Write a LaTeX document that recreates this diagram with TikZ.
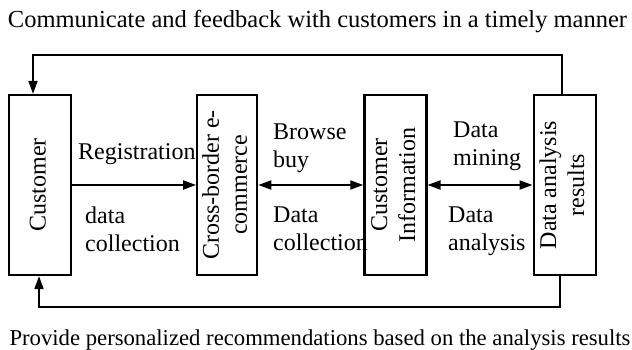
\documentclass[tikz,border=0pt]{standalone}
\usepackage{fontspec}
\setmainfont{Liberation Serif}
\usepackage{graphicx}
\usepackage{tikz}
\usetikzlibrary{positioning, arrows.meta}

% rotated text inside an upright box
\newcommand{\uptext}[1]{\rotatebox{90}{\begin{tabular}{@{}c@{}}#1\end{tabular}}}

\begin{document}
\begin{tikzpicture}[x=1pt, y=-1pt, >={Triangle[length=13pt,width=9pt]},
  font=\fontsize{24}{28}\selectfont,
  base/.style={draw, line width=2.2pt, minimum width=60pt, minimum height=180pt,
               inner sep=0pt, align=center},
  lbl/.style={anchor=north west, inner sep=0pt, align=left},
  link/.style={line width=1.8pt}]
  \useasboundingbox (0,0) rectangle (632,350);
  % boxes (middle row)
  \node[base, minimum width=62pt] (cust) at (40,185) {\uptext{Customer}};
  \node[base, right=124pt of cust] (cbe) {\uptext{Cross-border e-\\ commerce}};
  \node[base, minimum width=62pt, right=105pt of cbe] (cinfo) {\uptext{Customer\\ Information}};
  \node[base, minimum width=62pt, right=105pt of cinfo] (dar) {\uptext{Data analysis\\ results}};
  % captions top and bottom
  \node[anchor=base, inner sep=0pt, font=\fontsize{24.5}{28}\selectfont] (top) at (317.5,28)
    {Communicate and feedback with customers in a timely manner};
  \node[anchor=base, inner sep=0pt, font=\fontsize{22.7}{28}\selectfont] (bot) at (320,345)
    {Provide personalized recommendations based on the analysis results};
  % labels on the arrows
  \node[lbl] (reg) at (78,143) {Registration};
  \node[lbl] (dc1) at (85,207) {data\\ collection};
  \node[lbl] (bb) at (273,124) {Browse\\ buy};
  \node[lbl] (dc2) at (273,207) {Data\\ collection};
  \node[lbl] (dm) at (453,122) {Data\\ mining};
  \node[lbl] (da) at (448,207) {Data\\ analysis};
  % edges
  \draw[link, ->] (cust) -- (cbe);
  \draw[link, <->] (cbe) -- (cinfo);
  \draw[link, <->] (cinfo) -- (dar);
  \draw[link, ->] ([xshift=-3pt]dar.north) -- ++(0,-39) -| ([xshift=-7pt]cust.north);
  \draw[link, ->] ([xshift=-5pt]dar.south) -- ++(0,31) -| ([xshift=-1pt]cust.south);
\end{tikzpicture}
\end{document}
